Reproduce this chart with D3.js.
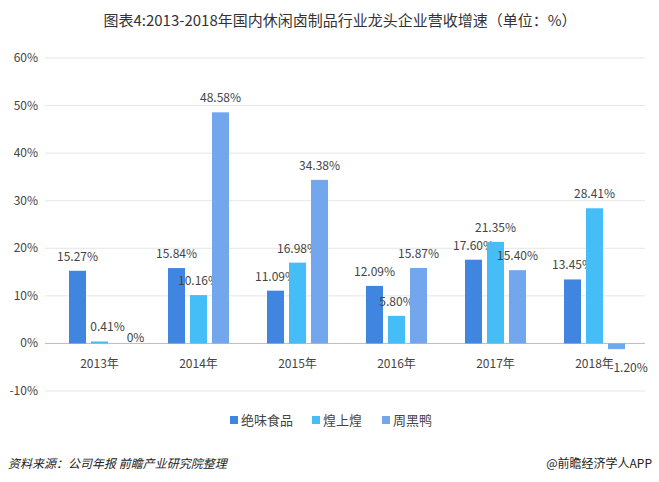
<!DOCTYPE html>
<html><head><meta charset="utf-8">
<script src="https://cdn.jsdelivr.net/npm/d3@7"></script>
<style>body{margin:0;background:#fff;font-family:"Noto Sans CJK SC","Noto Sans",sans-serif;}</style>
</head><body><div id="chart"></div>
<script>
var years = ["2013年","2014年","2015年","2016年","2017年","2018年"];
var seriesNames = ["绝味食品","煌上煌","周黑鸭"];
var juewei = [15.27,15.84,11.09,12.09,17.60,13.45];
var huangshanghuang = [0.41,10.16,16.98,5.80,21.35,28.41];
var zhouheiya = [0,48.58,34.38,15.87,15.40,-1.20];
var yTicks = [-10,0,10,20,30,40,50,60];
var colors = ["#4086e0","#45bdf7","#72a7ee"];

var width = 659, height = 482;
var svg = d3.select("#chart").append("svg").attr("width", width).attr("height", height);

svg.append("text").attr("x", 340).attr("y", 26).attr("text-anchor","middle")
    .attr("font-size", 15).attr("fill","#333")
    .text("图表4:2013-2018年国内休闲卤制品行业龙头企业营收增速（单位：%）");

var x = d3.scaleBand().domain(years).range([50, 644]);
var y = d3.scaleLinear().domain([-10, 60]).range([391, 58]);

svg.selectAll(".grid").data(yTicks).enter().append("line")
    .attr("x1", 45).attr("x2", 645)
    .attr("y1", d => y(d)).attr("y2", d => y(d))
    .attr("stroke", d => d === 0 ? "#bbb" : "#e6e6e6");

svg.selectAll(".yl").data(yTicks).enter().append("text")
    .attr("x", 38).attr("y", d => y(d) + 4).attr("text-anchor","end")
    .attr("font-size", 12).attr("fill","#444").text(d => d + "%");

svg.selectAll(".xl").data(years).enter().append("text")
    .attr("x", d => x(d) + x.bandwidth()/2).attr("y", y(0) + 25)
    .attr("text-anchor","middle").attr("font-size", 12).attr("fill","#444").text(d => d);

var all = [juewei, huangshanghuang, zhouheiya];
var barW = 17, step = 22;
all.forEach(function(vals, s) {
    var g = svg.append("g");
    var off = (s - 1) * step - barW/2;
    g.selectAll("rect").data(vals).enter().append("rect")
        .attr("x", (d,i) => x(years[i]) + x.bandwidth()/2 + off)
        .attr("y", d => y(Math.max(0,d)))
        .attr("width", barW)
        .attr("height", d => Math.abs(y(d) - y(0)))
        .attr("fill", colors[s]);
    g.selectAll("text").data(vals).enter().append("text")
        .attr("x", function(d,i) {
            var cx = x(years[i]) + x.bandwidth()/2 + off + barW/2;
            if (d < 0) return cx + 12;
            if (d === 0) return cx + 14;
            if (d < 1) return cx + 8;
            return cx;
        })
        .attr("y", d => d < 0 ? y(0) + 29 : (d === 0 ? y(0) - 1 : y(d) - 10))
        .attr("text-anchor","middle").attr("font-size", 12).attr("fill","#444")
        .text(d => d === 0 ? "0%" : d.toFixed(2) + "%");
});

var legX = [230, 312, 382];
seriesNames.forEach(function(n, i) {
    svg.append("rect").attr("x", legX[i]).attr("y", 416).attr("width", 8).attr("height", 8).attr("fill", colors[i]);
    svg.append("text").attr("x", legX[i] + 11).attr("y", 425).attr("font-size", 13).attr("fill","#444").text(n);
});

svg.append("text").attr("x", 8).attr("y", 468).attr("font-size", 12).attr("font-style","italic")
    .attr("fill","#222").text("资料来源：公司年报  前瞻产业研究院整理");
svg.append("text").attr("x", 652).attr("y", 468).attr("text-anchor","end").attr("font-size", 12)
    .attr("fill","#222").text("@前瞻经济学人APP");
</script></body></html>
